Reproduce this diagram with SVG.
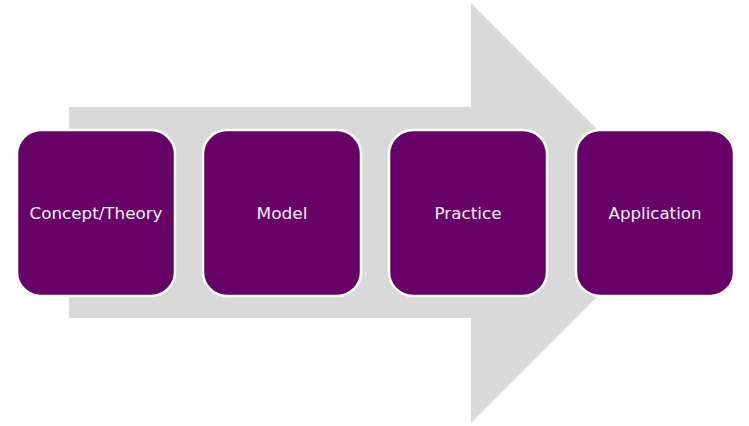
<svg xmlns="http://www.w3.org/2000/svg" width="749" height="426" viewBox="0 0 749 426">
<style>
.box{fill:#660066;stroke:#ffffff;stroke-width:2.5}
.lbl{font-family:"DejaVu Sans","Liberation Sans",sans-serif;font-size:16px;fill:#f4eef4;text-anchor:middle;dominant-baseline:central}
</style>
<rect width="749" height="426" fill="#ffffff"/>
<g id="connectors">
<polygon points="69,107 471,107 471,3 681,213 471,423 471,318 69,318" fill="#d9d9d9"/>
</g>
<g id="node1"><rect class="box" x="17" y="130" width="158" height="166" rx="24"/><text class="lbl" x="96" y="213" textLength="133" lengthAdjust="spacingAndGlyphs">Concept/Theory</text></g>
<g id="node2"><rect class="box" x="203" y="130" width="158" height="166" rx="24"/><text class="lbl" x="282" y="213" textLength="51" lengthAdjust="spacingAndGlyphs">Model</text></g>
<g id="node3"><rect class="box" x="389" y="130" width="158" height="166" rx="24"/><text class="lbl" x="468" y="213" textLength="67" lengthAdjust="spacingAndGlyphs">Practice</text></g>
<g id="node4"><rect class="box" x="576" y="130" width="158" height="166" rx="24"/><text class="lbl" x="655" y="213" textLength="93" lengthAdjust="spacingAndGlyphs">Application</text></g>
</svg>
